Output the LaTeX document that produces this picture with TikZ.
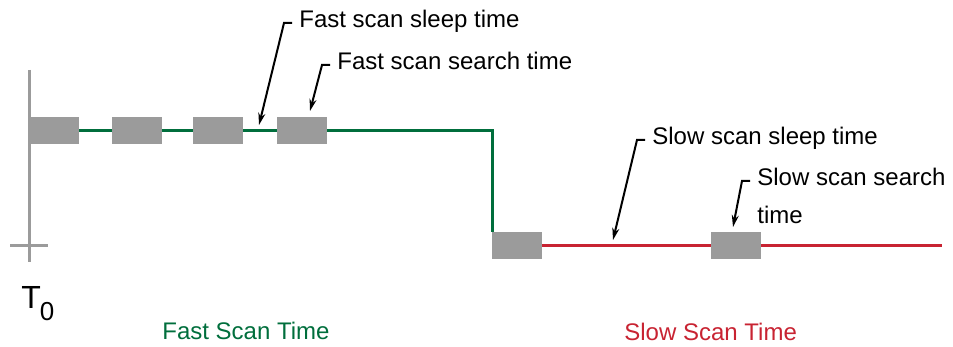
\documentclass[tikz,border=0pt]{standalone}
\usepackage{fontspec}
\setmainfont{Liberation Sans}
\usetikzlibrary{arrows.meta,positioning,backgrounds}

\definecolor{scangreen}{RGB}{0,110,60}
\definecolor{scanred}{RGB}{200,35,50}
\definecolor{boxgray}{RGB}{155,155,155}

\begin{document}
\begin{tikzpicture}[x=0.5pt,y=-0.5pt,
    scanbox/.style={fill=boxgray, minimum width=25pt, minimum height=13.5pt, inner sep=0pt},
    callout/.style={-{Stealth[length=6pt,width=3.5pt]}, line width=1pt},
    lbl/.style={font=\fontsize{12}{19}\selectfont, inner sep=1pt},
    scanline/.style={line width=1.5pt}]
    \useasboundingbox (0,0) rectangle (953,347);

    % Time axis
    \draw[boxgray, line width=1.5pt] (29,70) -- (29,262);
    \draw[boxgray, line width=1.5pt] (10,246) -- (48,246);
    \node[anchor=base west, inner sep=0pt, font=\fontsize{16}{16}\selectfont] (tzero) at (21,308)
        {T\kern-0.5pt\raisebox{-6pt}{\fontsize{13}{13}\selectfont 0}};

    % Search windows
    \node[scanbox] (f1) at (53.5,130.5) {};
    \node[scanbox] (f2) at (137,130.5) {};
    \node[scanbox] (f3) at (217.5,130.5) {};
    \node[scanbox] (f4) at (302,130.5) {};
    \node[scanbox] (s1) at (516.5,245.5) {};
    \node[scanbox] (s2) at (735.5,245.5) {};
    \coordinate (slowend) at (942,245.5);

    % Fast and slow scan lines
    \begin{scope}[on background layer]
        \draw[scanline, scangreen] (f1.center) -| ([xshift=0.75pt]s1.north west);
        \draw[scanline, scanred] (s1.center) -- (slowend);
    \end{scope}

    % Labels
    \node[lbl, anchor=base west, text height=0.75em, text depth=0.25em] (fsleep) at (297,28) {Fast scan sleep time};
    \node[lbl, anchor=base west, text height=0.75em, text depth=0.25em] (fsearch) at (335,70) {Fast scan search time};
    \node[lbl, anchor=base west, text height=0.75em, text depth=0.25em] (ssleep) at (650,145) {Slow scan sleep time};
    \node[lbl, anchor=north west, align=left] (ssearch) at (755,166) {Slow scan search\\time};

    \node[lbl, anchor=base west, text=scangreen] (fastlbl) at (160,339) {Fast Scan Time};
    \node[lbl, anchor=base west, text=scanred] (slowlbl) at (622,340) {Slow Scan Time};

    % Callouts
    \coordinate (fsleeptip) at (259,125);
    \coordinate (fsearchtip) at (310,111);
    \coordinate (ssleeptip) at (613,240);
    \coordinate (ssearchtip) at (733,227);
    \draw[callout] ([xshift=-2.5pt]fsleep.west) -- ++(-8,0) -- (fsleeptip);
    \draw[callout] ([xshift=-2.5pt]fsearch.west) -- ++(-8,0) -- (fsearchtip);
    \draw[callout] ([xshift=-2.5pt]ssleep.west) -- ++(-8,0) -- (ssleeptip);
    \draw[callout] ([xshift=-2.5pt,yshift=-7.5pt]ssearch.north west) -- ++(-8,0) -- (ssearchtip);
\end{tikzpicture}
\end{document}
